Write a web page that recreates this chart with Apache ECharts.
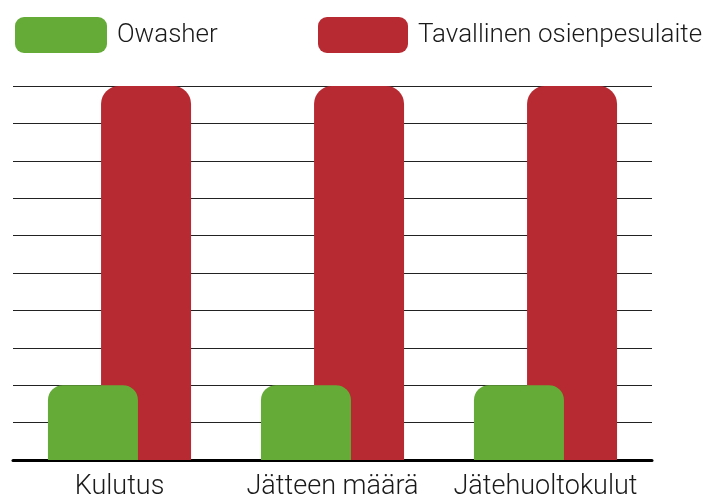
<!DOCTYPE html>
<html>
<head>
<meta charset="utf-8">
<script src="https://cdn.jsdelivr.net/npm/echarts@6/dist/echarts.min.js"></script>
<style>
  html, body { margin: 0; padding: 0; background: #fff; }
  #chart { width: 716px; height: 501px; }
</style>
</head>
<body>
<div id="chart"></div>
<script>
// categories and values
const categories = ['Kulutus', 'Jätteen määrä', 'Jätehuoltokulut'];
const owasherValues = [2, 2, 2];
const tavallinenValues = [10, 10, 10];

const FONT = 'Roboto, "Liberation Sans", sans-serif';

const chart = echarts.init(document.getElementById('chart'));

const option = {
    animation: false,
    legend: [
        {
            data: ['Owasher'],
            left: 10,
            top: 12,
            icon: 'roundRect',
            itemWidth: 92,
            itemHeight: 36,
            textStyle: { fontFamily: FONT, fontWeight: 300, fontSize: 26, color: '#1a1a1a', padding: [0, 0, 0, 5] }
        },
        {
            data: ['Tavallinen osienpesulaite'],
            left: 313,
            top: 12,
            icon: 'roundRect',
            itemWidth: 90,
            itemHeight: 36,
            textStyle: { fontFamily: FONT, fontWeight: 300, fontSize: 26, color: '#1a1a1a', padding: [0, 0, 0, 5] }
        }
    ],
    grid: { left: 13, right: 64, top: 86, bottom: 39 },
    xAxis: {
        type: 'category',
        data: categories,
        axisLine: { lineStyle: { color: '#000', width: 3 } },
        axisTick: { show: false },
        axisLabel: { interval: 0, fontFamily: FONT, fontWeight: 300, fontSize: 27, color: '#1a1a1a', margin: 14 }
    },
    yAxis: {
        type: 'value',
        min: 0,
        max: 10,
        interval: 1,
        axisLabel: { show: false },
        axisLine: { show: false },
        axisTick: { show: false },
        splitLine: { lineStyle: { color: '#222', width: 1 } }
    },
    series: [
        {
            name: 'Owasher',
            type: 'bar',
            data: owasherValues,
            barWidth: 90,
            barGap: '-41%',
            z: 3,
            itemStyle: { color: '#65ab37', borderRadius: [15, 15, 0, 0] }
        },
        {
            name: 'Tavallinen osienpesulaite',
            type: 'bar',
            data: tavallinenValues,
            barWidth: 90,
            z: 2,
            itemStyle: { color: '#b82a32', borderRadius: [18, 18, 0, 0] }
        }
    ]
};

chart.setOption(option);
</script>
</body>
</html>
